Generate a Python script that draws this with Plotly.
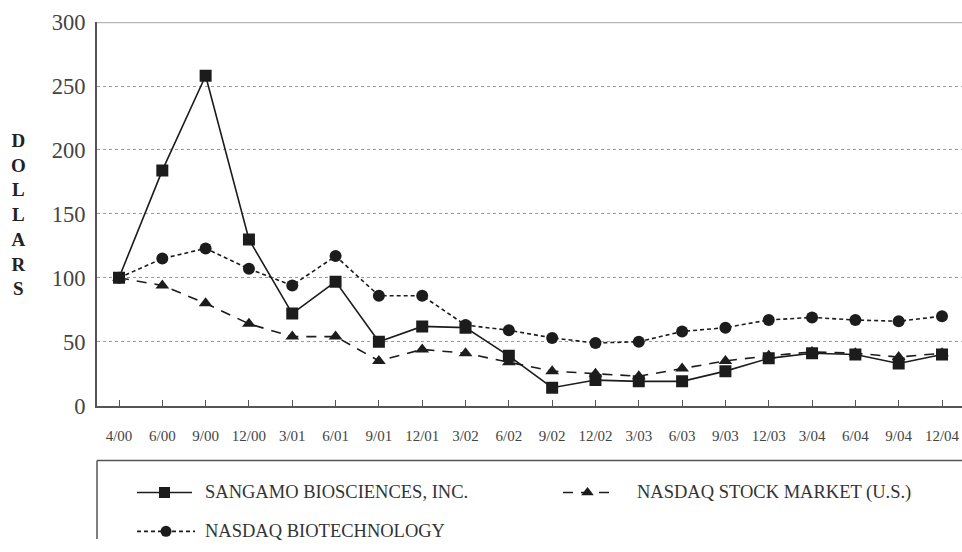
import plotly.graph_objects as go

periods = ["4/00", "6/00", "9/00", "12/00", "3/01", "6/01", "9/01", "12/01", "3/02", "6/02",
           "9/02", "12/02", "3/03", "6/03", "9/03", "12/03", "3/04", "6/04", "9/04", "12/04"]
sangamo = [100, 184, 258, 130, 72, 97, 50, 62, 61, 39, 14, 20, 19, 19, 27, 37, 41, 40, 33, 40]
nasdaq_market = [100, 94, 80, 64, 54, 54, 35, 44, 41, 34, 27, 25, 23, 29, 35, 39, 42, 41, 38, 41]
nasdaq_biotech = [100, 115, 123, 107, 94, 117, 86, 86, 63, 59, 53, 49, 50, 58, 61, 67, 69, 67, 66, 70]

series_names = ["SANGAMO BIOSCIENCES, INC.", "NASDAQ STOCK MARKET (U.S.)", "NASDAQ BIOTECHNOLOGY"]
y_ticks = [0, 50, 100, 150, 200, 250, 300]

W, H = 962, 552
INK = "#1c1c1c"
FONT = "Liberation Serif"


# vertical correction for how the page is displayed by the viewer
def fy(Y):
    return (Y - 11.4) / 0.957


x_idx = list(range(len(periods)))

fig = go.Figure()

styles = [
    dict(dash="solid", symbol="square", size=12),
    dict(dash="10px,8px", symbol="triangle-up", size=12),
    dict(dash="4px,3px", symbol="circle", size=12),
]
datas = [sangamo, nasdaq_market, nasdaq_biotech]

for i in [2, 1, 0]:
    st = styles[i]
    fig.add_trace(go.Scatter(
        x=x_idx, y=datas[i], mode="lines+markers", name=series_names[i],
        line=dict(color=INK, width=1.6, dash=st["dash"]),
        marker=dict(symbol=st["symbol"], size=st["size"], color=INK),
        showlegend=False, xaxis="x", yaxis="y",
    ))

# plot area geometry (pixels)
plot_left = 97
first_pt, last_pt = 119, 942
step = (last_pt - first_pt) / (len(periods) - 1)
x_lo = (plot_left - first_pt) / step
x_hi = (len(periods) - 1) + (W - last_pt) / step
y_bot, y_top = fy(406), fy(21.5)

leg_top = fy(461)
leg_h = H - leg_top


def ly(Y):
    return H - fy(Y)


row1, row2 = 493, 532
leg_rows = [(137, 192, ly(row1)), (563, 612, ly(row1)), (137, 195, ly(row2))]
for i, (x0, x1, yy) in enumerate(leg_rows):
    st = styles[i]
    fig.add_trace(go.Scatter(
        x=[x0, x1], y=[yy, yy], mode="lines",
        line=dict(color=INK, width=1.6, dash=st["dash"]),
        showlegend=False, xaxis="x2", yaxis="y2", hoverinfo="skip",
    ))
    fig.add_trace(go.Scatter(
        x=[(x0 + x1) / 2], y=[yy], mode="markers",
        marker=dict(symbol=st["symbol"], size=11, color=INK),
        showlegend=False, xaxis="x2", yaxis="y2", hoverinfo="skip",
    ))

annotations = []
text_pos = [(203, ly(row1)), (635, ly(row1)), (203, ly(row2))]
for i, (tx, ty) in enumerate(text_pos):
    annotations.append(dict(
        x=tx, y=ty, xref="x2", yref="y2", text=series_names[i], showarrow=False,
        xanchor="left", yanchor="middle",
        font=dict(family=FONT, size=18.5, color="#333333"),
    ))
annotations.append(dict(
    x=18 / W, y=1 - fy(214.5) / H, xref="paper", yref="paper",
    text="<b>D<br>O<br>L<br>L<br>A<br>R<br>S</b>", showarrow=False,
    xanchor="center", yanchor="middle",
    font=dict(family=FONT, size=19, color="#222222"),
))

box_col = dict(color="#555555", width=1.5)
shapes = [
    dict(type="line", xref="paper", yref="y", x0=plot_left / W, x1=1.0, y0=300, y1=300,
         line=dict(color="#b8b8b8", width=2.5), layer="above"),
    # legend frame (top and left edges; the rest runs off the page)
    dict(type="line", xref="paper", yref="paper", x0=plot_left / W, x1=1.0,
         y0=1 - leg_top / H, y1=1 - leg_top / H, line=box_col),
    dict(type="line", xref="paper", yref="paper", x0=plot_left / W, x1=plot_left / W,
         y0=0.0, y1=1 - leg_top / H, line=box_col),
]

fig.update_layout(
    width=W, height=H,
    margin=dict(l=0, r=0, t=0, b=0),
    paper_bgcolor="white", plot_bgcolor="white",
    font=dict(family=FONT, color="#444444"),
    xaxis=dict(
        domain=[plot_left / W, 1.0],
        range=[x_lo, x_hi],
        tickmode="array", tickvals=x_idx, ticktext=periods,
        ticks="inside", ticklen=6, tickcolor="#555555", tickwidth=1,
        showline=True, linecolor="#555555", linewidth=2,
        showgrid=False, zeroline=False,
        tickfont=dict(family=FONT, size=15, color="#444444"),
        ticklabelstandoff=15,
        ticklabeloverflow="allow",
        fixedrange=True,
    ),
    yaxis=dict(
        domain=[1 - y_bot / H, 1 - y_top / H],
        range=[0, 300],
        tickmode="array", tickvals=y_ticks,
        showline=True, linecolor="#555555", linewidth=2,
        showgrid=True, gridcolor="#9a9a9a", griddash="3px,3px", gridwidth=1,
        zeroline=False, ticks="",
        tickfont=dict(family=FONT, size=22.5, color="#444444"),
        ticklabelstandoff=5,
        ticklabeloverflow="allow",
        fixedrange=True,
    ),
    xaxis2=dict(domain=[0, 1], range=[0, W], visible=False, fixedrange=True, anchor="y2"),
    yaxis2=dict(domain=[0, leg_h / H], range=[0, leg_h], visible=False,
                fixedrange=True, anchor="x2"),
    annotations=annotations,
    shapes=shapes,
)

fig.write_html(
    "out.html",
    config={"displayModeBar": False},
    post_script="document.body.style.margin='0px';document.body.style.overflow='hidden';",
)
